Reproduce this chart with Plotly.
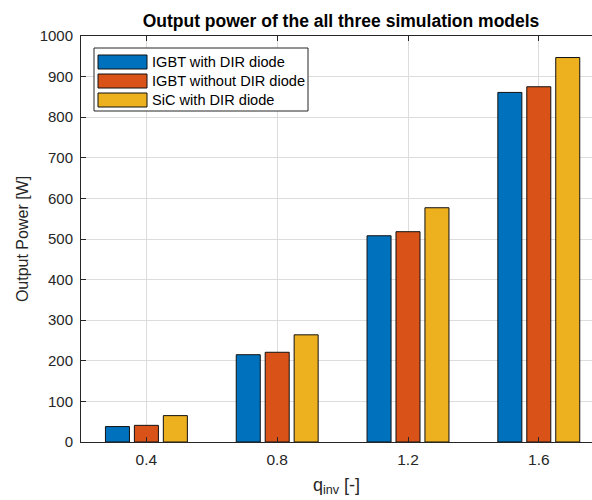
import plotly.graph_objects as go

# Inverter modulation values (x) and output power per simulation model
q_inv = [0.4, 0.8, 1.2, 1.6]
igbt_with_dir = [38, 215, 508, 861]
igbt_without_dir = [41, 221, 518, 875]
sic_with_dir = [65, 264, 577, 947]

series_names = ["IGBT with DIR diode", "IGBT without DIR diode", "SiC with DIR diode"]
series_values = [igbt_with_dir, igbt_without_dir, sic_with_dir]
series_colors = ["#0072BD", "#D95319", "#EDB120"]

y_ticks = list(range(0, 1001, 100))

W, H = 592, 500
M_L, M_R, M_T, M_B = 81, 0, 36, 58
AX = "#262626"
FONT = "Liberation Sans, Arial, Helvetica, sans-serif"

fig = go.Figure()
for name, vals, col in zip(series_names, series_values, series_colors):
    fig.add_trace(go.Bar(
        x=q_inv, y=vals, name=name,
        marker=dict(color=col, line=dict(color="#111111", width=1)),
        showlegend=False,
    ))

# Plot-area helpers: pixel -> paper coordinates
plot_w = W - M_L - M_R
plot_h = H - M_T - M_B


def px(xp):
    return (xp - M_L) / plot_w


def py(yp):
    return (H - M_B - yp) / plot_h


# Legend box drawn with shapes so the swatches are wide like the bars' legend
shapes = [dict(type="rect", xref="paper", yref="paper",
               x0=px(94), x1=px(308), y0=py(111), y1=py(48),
               line=dict(color=AX, width=1), fillcolor="white", layer="above")]
annotations = []
row_centers = [62, 81, 100]
for name, col, yc in zip(series_names, series_colors, row_centers):
    shapes.append(dict(type="rect", xref="paper", yref="paper",
                       x0=px(98), x1=px(147), y0=py(yc + 7), y1=py(yc - 7),
                       line=dict(color="#111111", width=1), fillcolor=col, layer="above"))
    annotations.append(dict(xref="paper", yref="paper", x=px(150), y=py(yc),
                            text=name, showarrow=False, xanchor="left", yanchor="middle",
                            font=dict(family=FONT, size=14.6, color="#000000")))

fig.update_layout(
    width=W, height=H,
    margin=dict(l=M_L, r=M_R, t=M_T, b=M_B, pad=0),
    paper_bgcolor="white", plot_bgcolor="white",
    barmode="group", bargap=0.336, bargroupgap=0.17,
    font=dict(family=FONT, color=AX, size=15),
    title=dict(text="<b>Output power of the all three simulation models</b>",
               xref="container", x=341 / W, xanchor="center",
               yref="container", y=1 - 21 / H, yanchor="middle",
               font=dict(family=FONT, size=17.5, color="#000000")),
    shapes=shapes, annotations=annotations,
)

fig.update_xaxes(
    range=[0.2, 0.2 + 0.4 * plot_w / 130.8],
    tickvals=q_inv, ticktext=[f"{v:.1f}" for v in q_inv],
    showgrid=True, gridcolor="#DCDCDC", gridwidth=1,
    showline=True, linecolor=AX, linewidth=1, mirror="ticks",
    ticks="inside", ticklen=5, tickcolor=AX,
    tickfont=dict(family=FONT, size=15.5, color=AX),
    ticklabelstandoff=3,
    zeroline=False,
    title=dict(text="q<sub>inv</sub> [-]", standoff=11,
               font=dict(family=FONT, size=18, color=AX)),
)
fig.update_yaxes(
    range=[0, 1000], tickvals=y_ticks,
    showgrid=True, gridcolor="#DCDCDC", gridwidth=1,
    showline=True, linecolor=AX, linewidth=1, mirror=False,
    ticks="inside", ticklen=5, tickcolor=AX,
    tickfont=dict(family=FONT, size=15, color=AX),
    ticklabelstandoff=4,
    zeroline=False,
    title=dict(text="Output Power [W]", standoff=7,
               font=dict(family=FONT, size=16, color=AX)),
)

fig.write_html("out.html")
